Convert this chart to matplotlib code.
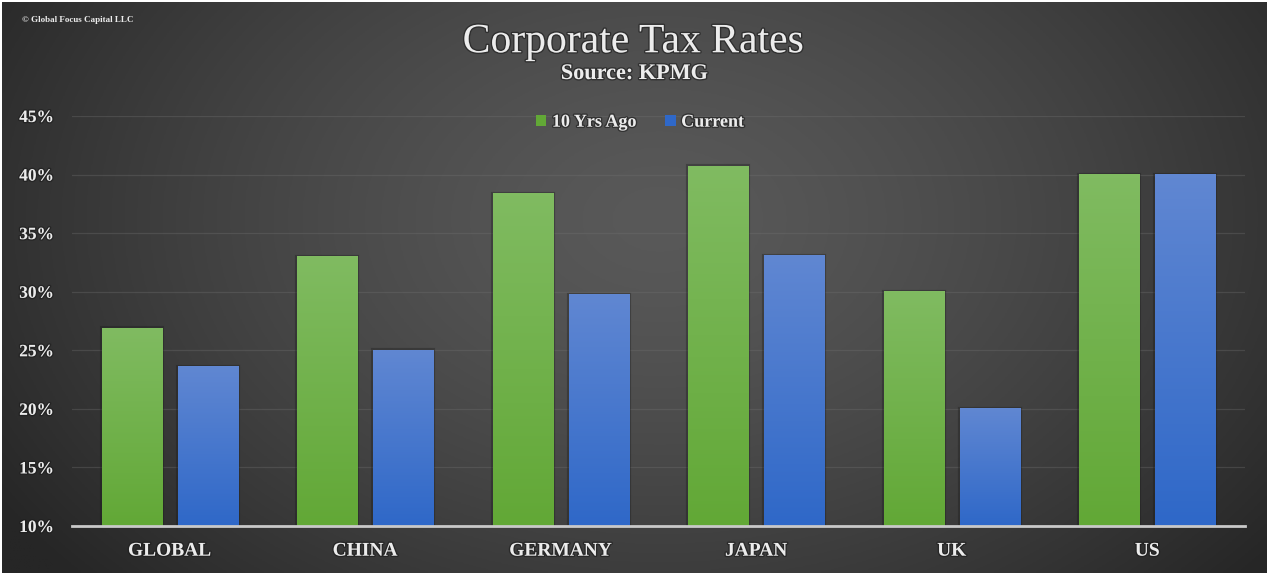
import numpy as np
import matplotlib
matplotlib.use("Agg")
import matplotlib.pyplot as plt
import matplotlib.patheffects as pe
from matplotlib.colors import to_rgb

# corporate tax rates (%), KPMG
countries = ["GLOBAL", "CHINA", "GERMANY", "JAPAN", "UK", "US"]
rate_10y_ago = [26.9, 33.0, 38.36, 40.69, 30.0, 40.0]
rate_current = [23.6, 25.0, 29.72, 33.06, 20.0, 40.0]
yticks = [10, 15, 20, 25, 30, 35, 40, 45]

W, H = 1269, 575
fig = plt.figure(figsize=(W / 100, H / 100), dpi=100, facecolor="white")

# dark radial backdrop inside a thin white frame
bg = fig.add_axes([2 / W, 2 / H, 1 - 4 / W, 1 - 4 / H], zorder=-10)
gx, gy = np.meshgrid(np.linspace(0, 1, 400), np.linspace(0, 1, 200))
r = np.sqrt(((gx - 0.52) / 0.62) ** 2 + ((gy - 0.62) / 0.95) ** 2)
r = np.clip(r, 0, 1) ** 1.4
inner = np.array(to_rgb("#595959"))
outer = np.array(to_rgb("#262626"))
img = inner[None, None, :] * (1 - r[..., None]) + outer[None, None, :] * r[..., None]
bg.imshow(img, origin="lower", extent=[0, 1, 0, 1], aspect="auto")
bg.axis("off")

ax = fig.add_axes([72 / W, 1 - 526 / H, (1245 - 72) / W, (526 - 116) / H])
ax.set_facecolor("none")

serif = ["Liberation Serif", "DejaVu Serif"]
shadow = [pe.withStroke(linewidth=2, foreground="#1c1c1c", alpha=0.6)]
txt = "#ececec"

x = np.arange(len(countries))
bw = 0.307
off = 0.194
green_top, green_bot = "#80bb61", "#62a836"
blue_top, blue_bot = "#6087d2", "#2f68c8"
edge = (0.1, 0.1, 0.1, 0.35)

b1 = ax.bar(x - off, rate_10y_ago, bw, color=green_bot, edgecolor=edge,
            linewidth=3, zorder=2, label="10 Yrs Ago")
b2 = ax.bar(x + off, rate_current, bw, color=blue_bot, edgecolor=edge,
            linewidth=3, zorder=2, label="Current")


def shade(bars, top, bot):
    t = np.array(to_rgb(top))
    b = np.array(to_rgb(bot))
    k = np.linspace(0, 1, 100)[:, None]
    grad = (b * (1 - k) + t * k)[:, None, :]
    for rect in bars:
        x0 = rect.get_x()
        ax.imshow(grad, origin="lower", aspect="auto", zorder=3,
                  extent=[x0, x0 + rect.get_width(), 10, rect.get_height()])


shade(b1, green_top, green_bot)
shade(b2, blue_top, blue_bot)

ax.set_xlim(-0.5, len(countries) - 0.5)
ax.set_ylim(10, 45)
ax.set_yticks(yticks)
ax.set_yticklabels([f"{v}%" for v in yticks])
ax.set_xticks(x)
ax.set_xticklabels(countries)
ax.yaxis.grid(True, color="#707070", linewidth=0.9, alpha=0.35, zorder=0)
ax.set_axisbelow(True)
for s in ["top", "right", "left"]:
    ax.spines[s].set_visible(False)
ax.spines["bottom"].set_color("#c9c9c9")
ax.spines["bottom"].set_linewidth(2)
ax.spines["bottom"].set_zorder(4)
ax.tick_params(axis="y", length=0, pad=13)
ax.tick_params(axis="x", length=0, pad=12)
for lab in ax.get_yticklabels():
    lab.set(family=serif, fontweight="bold", fontsize=12.5, color=txt, path_effects=shadow)
for lab in ax.get_xticklabels():
    lab.set(family=serif, fontweight="bold", fontsize=14, color=txt, path_effects=shadow)

leg = ax.legend(loc="center", bbox_to_anchor=(0.484, 0.985), ncol=2, frameon=False,
                handlelength=0.6, handleheight=0.6, handletextpad=0.3, columnspacing=1.6,
                prop={"family": serif, "size": 13, "weight": "bold"})
for t in leg.get_texts():
    t.set_color(txt)
    t.set_path_effects(shadow)
for h in leg.legend_handles:
    h.set_edgecolor("none")

fig.text(0.499, 1 - 42 / H, "Corporate Tax Rates", ha="center", va="center",
         family=serif, fontsize=30, color=txt, path_effects=shadow)
fig.text(0.5, 1 - 74 / H, "Source: KPMG", ha="center", va="center",
         family=serif, fontsize=16, fontweight="bold", color=txt, path_effects=shadow)
fig.text(22 / W, 1 - 20 / H, "© Global Focus Capital LLC", ha="left", va="center",
         family=serif, fontsize=6.5, fontweight="bold", color=txt)

fig.savefig("out.png", dpi=100, facecolor="white")
